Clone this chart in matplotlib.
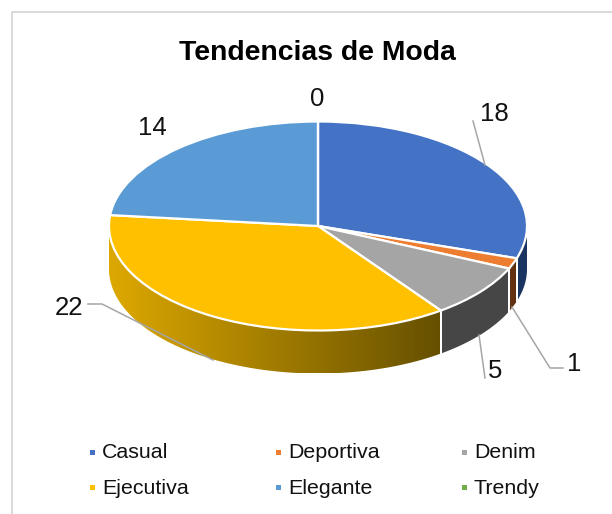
import numpy as np
import matplotlib
matplotlib.use("Agg")
import matplotlib.pyplot as plt
from matplotlib.colors import to_rgb
from matplotlib.patches import Polygon

plt.rcParams['font.family'] = ['Liberation Sans', 'DejaVu Sans']

categories = ["Casual", "Deportiva", "Denim", "Ejecutiva", "Elegante", "Trendy"]
values = [18, 1, 5, 22, 14, 0]
colors = ["#4472C4", "#ED7D31", "#A5A5A5", "#FFC000", "#5B9BD5", "#70AD47"]
# side wall colours, left end and right end of each slice
side_left = ["#1B3562", "#6A3514", "#464646", "#DDA800", "#2E5A85", "#3A5F25"]
side_right = ["#1B3562", "#5C2E11", "#464646", "#665000", "#2E5A85", "#3A5F25"]
title = "Tendencias de Moda"

W, H = 612, 514
cx, cy = 318, 226
rx, ry = 209, 104.5
depth = 43 / ry

fig = plt.figure(figsize=(W / 100, H / 100), dpi=100)

# pie axes: one data unit is rx pixels across and ry pixels down, so the circle tilts
ax = fig.add_axes([0, 0, 1, 1])
wedges, _ = ax.pie(values, colors=colors, startangle=90, counterclock=False,
                   wedgeprops=dict(edgecolor='white', linewidth=1.6, zorder=5))

# side walls, only the front half of the pie shows
for i, w in enumerate(wedges):
    if values[i] == 0:
        continue
    angles = np.radians(np.arange(w.theta1, w.theta2 + 0.25, 0.25))
    angles = angles[np.sin(angles) <= 0.001]
    if len(angles) < 2:
        continue
    xs = np.cos(angles)
    ys = np.sin(angles)
    outline = np.column_stack([np.r_[xs, xs[::-1]], np.r_[ys, ys[::-1] - depth]])
    wall = Polygon(outline, closed=True, facecolor='none', edgecolor='none', transform=ax.transData)
    ax.add_patch(wall)
    ramp = np.linspace(0, 1, 256)[None, :, None]
    grad = np.array(to_rgb(side_left[i])) + (np.array(to_rgb(side_right[i])) - np.array(to_rgb(side_left[i]))) * ramp
    im = ax.imshow(grad, extent=[xs.min(), xs.max(), ys.min() - depth, ys.max()],
                   aspect='auto', interpolation='bilinear', zorder=2)
    im.set_clip_path(wall)
    # white seams where slices meet
    for a in (np.radians(w.theta1), np.radians(w.theta2)):
        if np.sin(a) < 0:
            ax.plot([np.cos(a), np.cos(a)], [np.sin(a), np.sin(a) - depth],
                    color='white', lw=1.4, zorder=3)

ax.set_aspect('auto')
ax.set_xlim(-cx / rx, (W - cx) / rx)
ax.set_ylim(-(H - cy) / ry, cy / ry)
ax.axis('off')

# overlay in pixel coordinates for frame, labels and legend
ov = fig.add_axes([0, 0, 1, 1])
ov.set_xlim(0, W)
ov.set_ylim(H, 0)
ov.axis('off')
ov.patch.set_alpha(0)

ov.plot([11.5, 11.5, W], [H, 11.5, 11.5], color='#D9D9D9', lw=1.4, zorder=1)
ov.text(317.5, 52.5, title, fontsize=20.4, fontweight='bold', ha='center', va='center', color='black')

leaders = [
    ([473, 485], [121, 165]),
    ([512, 550, 563], [307, 368, 368]),
    ([479, 485], [335, 378]),
    ([88, 102, 213], [304, 304, 360]),
]
for lx, ly in leaders:
    ov.plot(lx, ly, color='#A6A6A6', lw=1.1, zorder=6)

label_x = [494, 574, 495, 69, 152, 317]
label_y = [114, 364, 371, 308, 128, 99]
for i, v in enumerate(values):
    ov.text(label_x[i], label_y[i], str(v), fontsize=18.5, ha='center', va='center', color='#111111', zorder=7)

legend_x = [92, 278, 464]
legend_y = [452, 487]
for i, name in enumerate(categories):
    x0 = legend_x[i % 3]
    y0 = legend_y[i // 3]
    ov.plot([x0], [y0], marker='s', ms=3.6, color=colors[i], mew=0, ls='none')
    ov.text(x0 + 10, y0 + 1, name, fontsize=15.4, ha='left', va='center', color='#111111')

fig.savefig("out.png", dpi=100)
